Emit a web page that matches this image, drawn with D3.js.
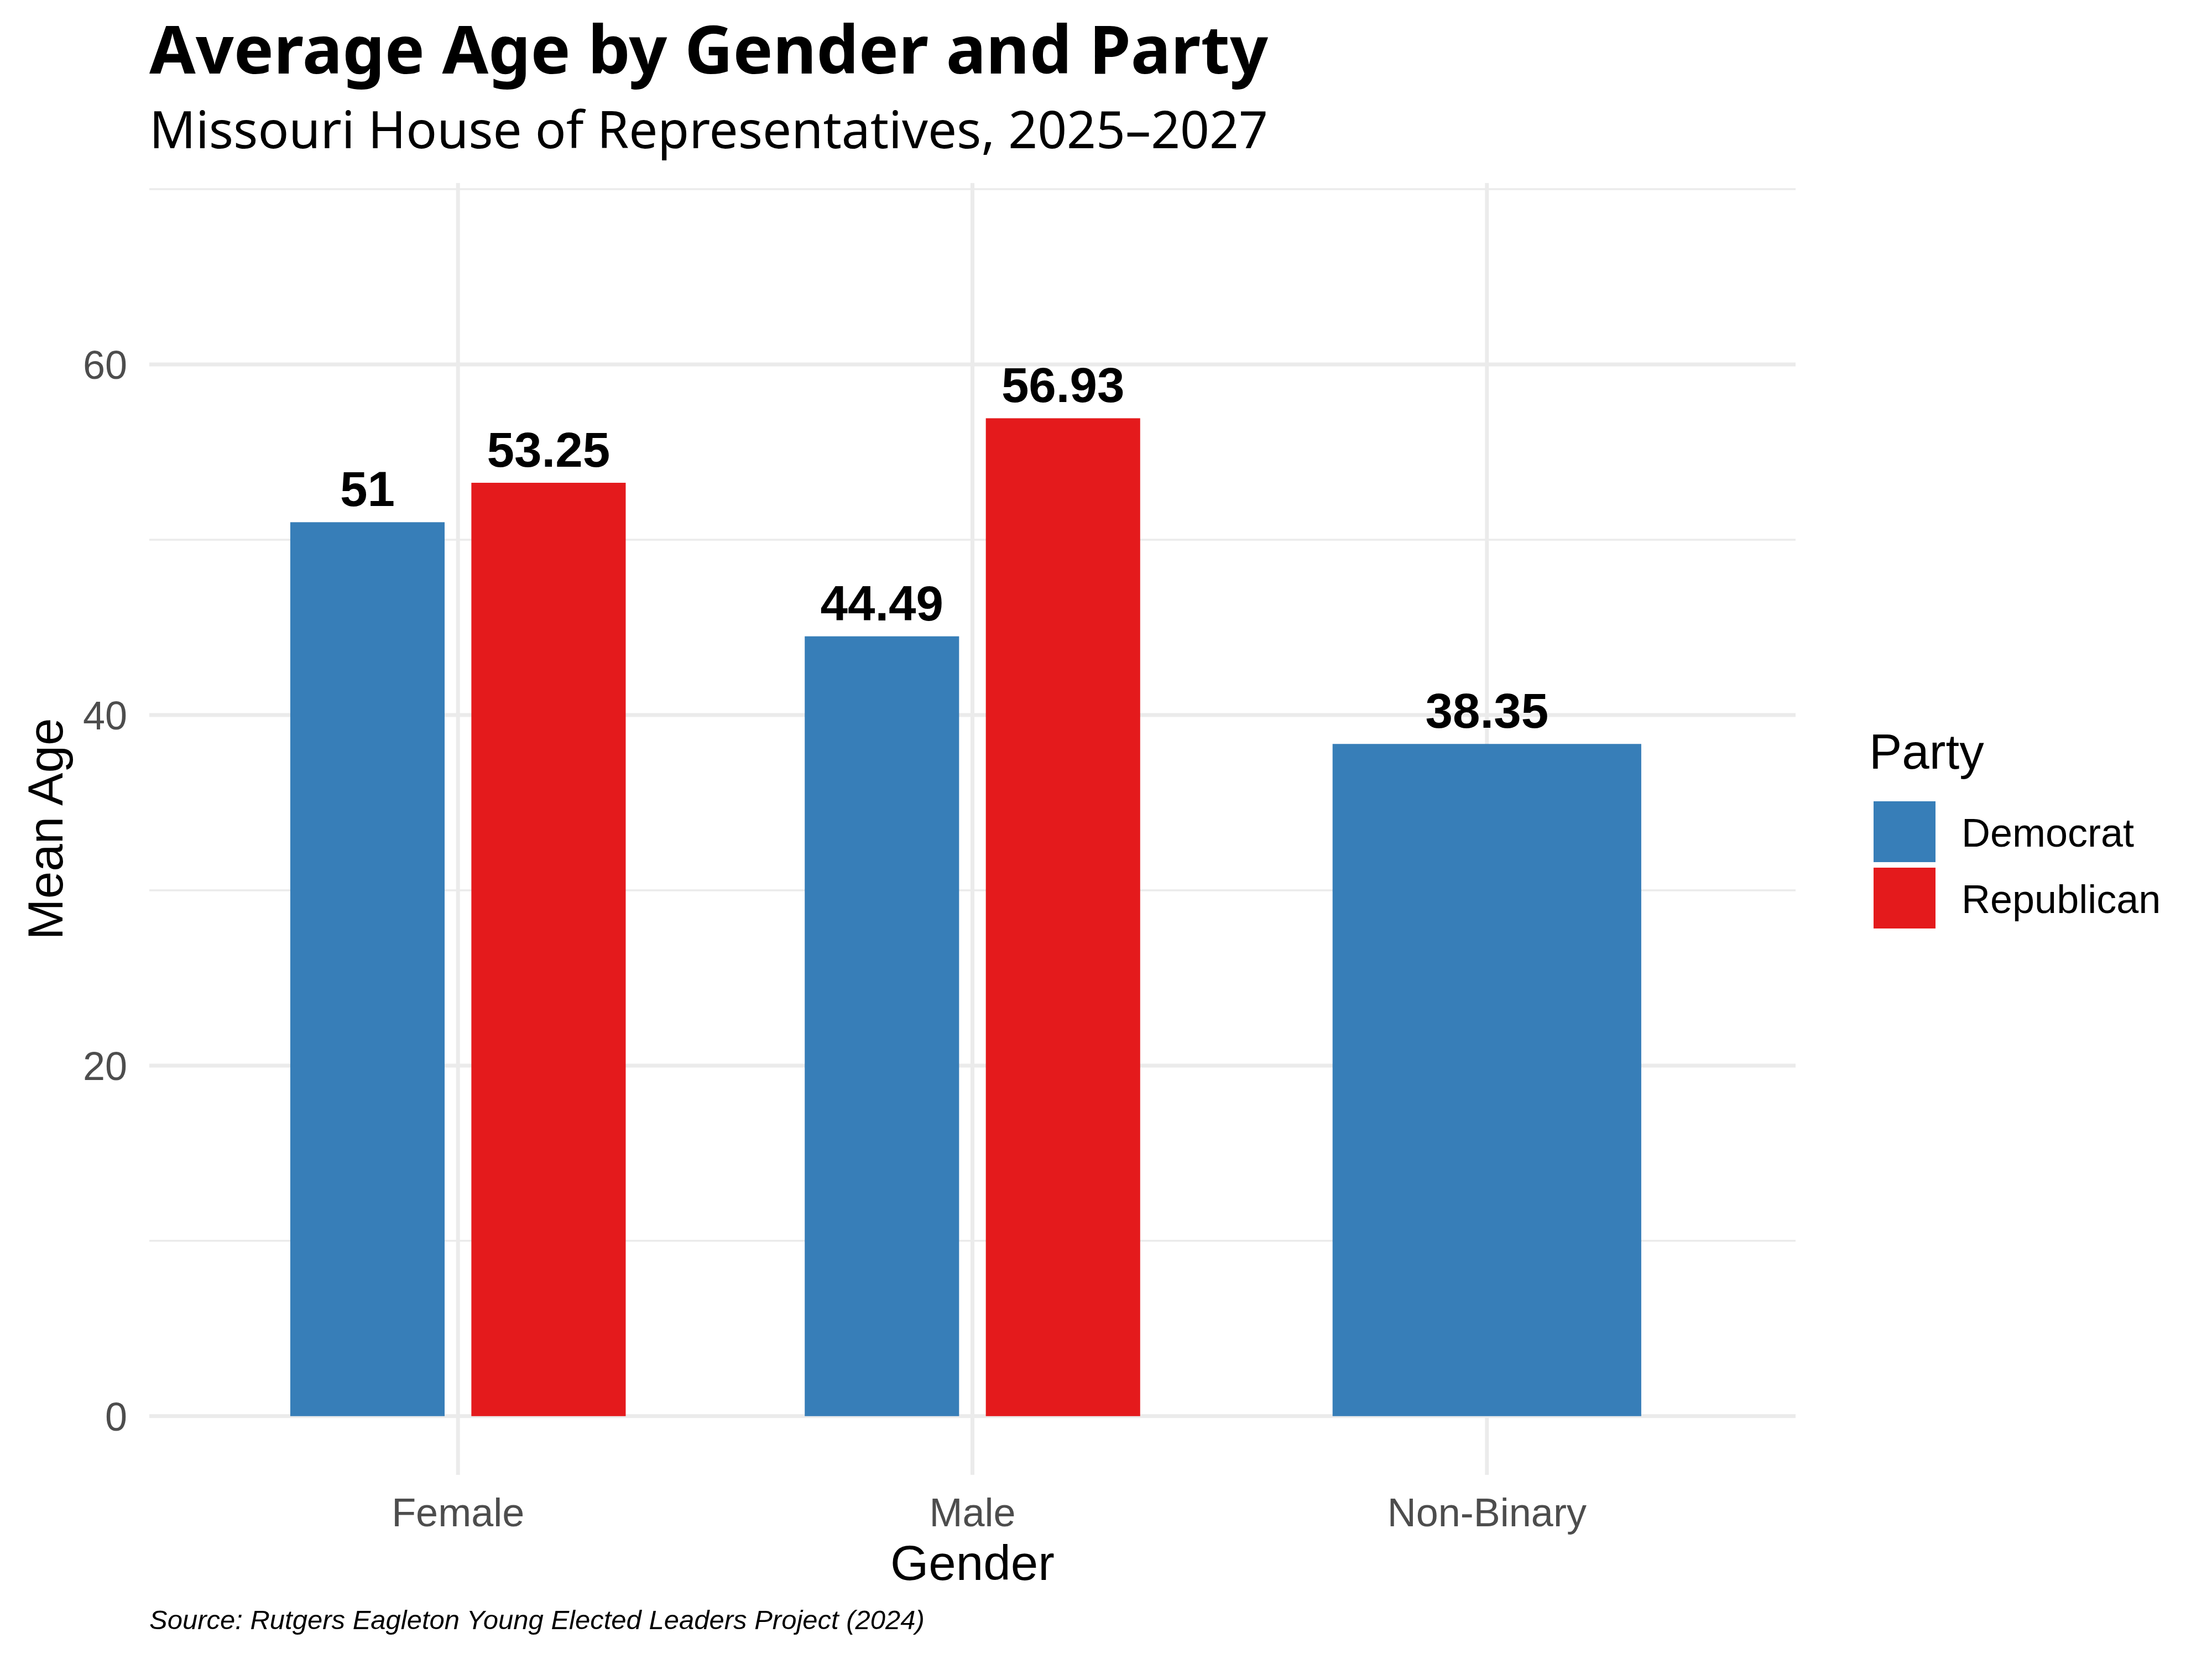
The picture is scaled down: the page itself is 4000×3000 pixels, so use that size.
<!DOCTYPE html>
<html>
  <head>
    <meta charset="UTF-8">
    <title>Average Age by Gender and Party</title>
    <style>
      body { margin: 0; background: #fff; }
      .grid line { stroke: #ebebeb; }
      .tick-label { font-family: "Liberation Sans", Arial, sans-serif; fill: #4d4d4d; }
      .axis-title { font-family: "Liberation Sans", Arial, sans-serif; fill: #000; }
      .bar-label { font-family: "Liberation Sans", Arial, sans-serif; font-weight: bold; fill: #000; }
    </style>
    <script src="https://d3js.org/d3.v7.min.js"></script>
  </head>
  <body>
    <script type="text/javascript">
      /* ==== Data ==== */
      var genders = ["Female", "Male", "Non-Binary"];
      var parties = ["Democrat", "Republican"];
      var partyColors = ["#377eb8", "#e41a1c"];
      // one row per bar: gender, party, mean age
      var barGender = ["Female", "Female", "Male", "Male", "Non-Binary"];
      var barParty = ["Democrat", "Republican", "Democrat", "Republican", "Democrat"];
      var barAge = [51, 53.25, 44.49, 56.93, 38.35];
      var barLabels = ["51", "53.25", "44.49", "56.93", "38.35"];
      var yTicks = [0, 20, 40, 60];
      var yMinorTicks = [10, 30, 50, 70];

      var title = "Average Age by Gender and Party";
      var subtitle = "Missouri House of Representatives, 2025\u20132027";
      var caption = "Source: Rutgers Eagleton Young Elected Leaders Project (2024)";

      /* ==== Layout ==== */
      var width = 4000,
          height = 3000,
          panel = {left: 270, right: 3247, top: 331, bottom: 2667};

      var svg = d3.select("body").append("svg")
          .attr("width", width)
          .attr("height", height);

      svg.append("rect").attr("width", width).attr("height", height).attr("fill", "#fff");

      // ggplot style: 5% expansion around 0..67
      var y = d3.scaleLinear()
          .domain([-3.35, 70.35])
          .range([panel.bottom, panel.top]);

      var x = d3.scalePoint()
          .domain(genders)
          .range([panel.left, panel.right])
          .padding(0.6);

      var unit = x.step();
      var color = d3.scaleOrdinal().domain(parties).range(partyColors);

      /* ==== Grid ==== */
      var grid = svg.append("g").attr("class", "grid");

      grid.selectAll(".minor")
          .data(yMinorTicks)
          .enter().append("line")
          .attr("x1", panel.left).attr("x2", panel.right)
          .attr("y1", y).attr("y2", y)
          .attr("stroke-width", 3.5);

      grid.selectAll(".major")
          .data(yTicks)
          .enter().append("line")
          .attr("x1", panel.left).attr("x2", panel.right)
          .attr("y1", y).attr("y2", y)
          .attr("stroke-width", 7);

      grid.selectAll(".vmajor")
          .data(genders)
          .enter().append("line")
          .attr("x1", x).attr("x2", x)
          .attr("y1", panel.top).attr("y2", panel.bottom)
          .attr("stroke-width", 7);

      /* ==== Bars (dodged) ==== */
      var bars = barAge.map(function(v, i) {
          var g = barGender[i];
          var n = barGender.filter(function(d) { return d === g; }).length;
          var k = barGender.slice(0, i).filter(function(d) { return d === g; }).length;
          var w, cx;
          if (n === 1) {
              w = 0.6 * unit;
              cx = x(g);
          } else {
              w = 0.30 * unit;
              cx = x(g) + (k === 0 ? -1 : 1) * 0.176 * unit;
          }
          return {gender: g, party: barParty[i], value: v, label: barLabels[i], x0: cx - w / 2, w: w, cx: cx};
      });

      svg.selectAll(".bar")
          .data(bars)
          .enter().append("rect")
          .attr("class", "bar")
          .attr("x", function(d) { return d.x0; })
          .attr("width", function(d) { return d.w; })
          .attr("y", function(d) { return y(d.value); })
          .attr("height", function(d) { return y(0) - y(d.value); })
          .attr("fill", function(d) { return color(d.party); });

      svg.selectAll(".bar-label")
          .data(bars)
          .enter().append("text")
          .attr("class", "bar-label")
          .attr("x", function(d) { return d.cx; })
          .attr("y", function(d) { return y(d.value) - 29; })
          .attr("text-anchor", "middle")
          .attr("font-size", 89)
          .text(function(d) { return d.label; });

      /* ==== Axes text ==== */
      svg.selectAll(".ytick")
          .data(yTicks)
          .enter().append("text")
          .attr("class", "tick-label")
          .attr("x", panel.left - 40)
          .attr("y", function(d) { return y(d) + 26; })
          .attr("text-anchor", "end")
          .attr("font-size", 72)
          .text(function(d) { return d; });

      svg.selectAll(".xtick")
          .data(genders)
          .enter().append("text")
          .attr("class", "tick-label")
          .attr("x", x)
          .attr("y", 2760)
          .attr("text-anchor", "middle")
          .attr("font-size", 72)
          .text(function(d) { return d; });

      svg.append("text")
          .attr("class", "axis-title")
          .attr("x", (panel.left + panel.right) / 2)
          .attr("y", 2857)
          .attr("text-anchor", "middle")
          .attr("font-size", 89)
          .text("Gender");

      svg.append("text")
          .attr("class", "axis-title")
          .attr("transform", "translate(113," + (panel.top + panel.bottom) / 2 + ") rotate(-90)")
          .attr("text-anchor", "middle")
          .attr("font-size", 89)
          .text("Mean Age");

      /* ==== Titles ==== */
      svg.append("text")
          .attr("x", panel.left)
          .attr("y", 133)
          .attr("font-family", "'Noto Sans', 'Open Sans', sans-serif")
          .attr("font-weight", "bold")
          .attr("font-size", 121)
          .text(title);

      svg.append("text")
          .attr("x", panel.left)
          .attr("y", 268)
          .attr("font-family", "'Noto Sans', 'Open Sans', sans-serif")
          .attr("font-size", 92.5)
          .text(subtitle);

      svg.append("text")
          .attr("x", panel.left)
          .attr("y", 2946)
          .attr("font-family", "'Liberation Sans', Arial, sans-serif")
          .attr("font-style", "italic")
          .attr("font-size", 49)
          .text(caption);

      /* ==== Legend ==== */
      var legend = svg.append("g").attr("transform", "translate(3380,1390)");

      legend.append("text")
          .attr("class", "axis-title")
          .attr("font-size", 89)
          .text("Party");

      var key = legend.selectAll(".key")
          .data(parties)
          .enter().append("g")
          .attr("transform", function(d, i) { return "translate(8," + (59 + i * 120) + ")"; });

      key.append("rect")
          .attr("width", 112)
          .attr("height", 110)
          .attr("fill", color);

      key.append("text")
          .attr("x", 159)
          .attr("y", 82)
          .attr("font-family", "'Liberation Sans', Arial, sans-serif")
          .attr("font-size", 72)
          .text(function(d) { return d; });
    </script>
  </body>
</html>
